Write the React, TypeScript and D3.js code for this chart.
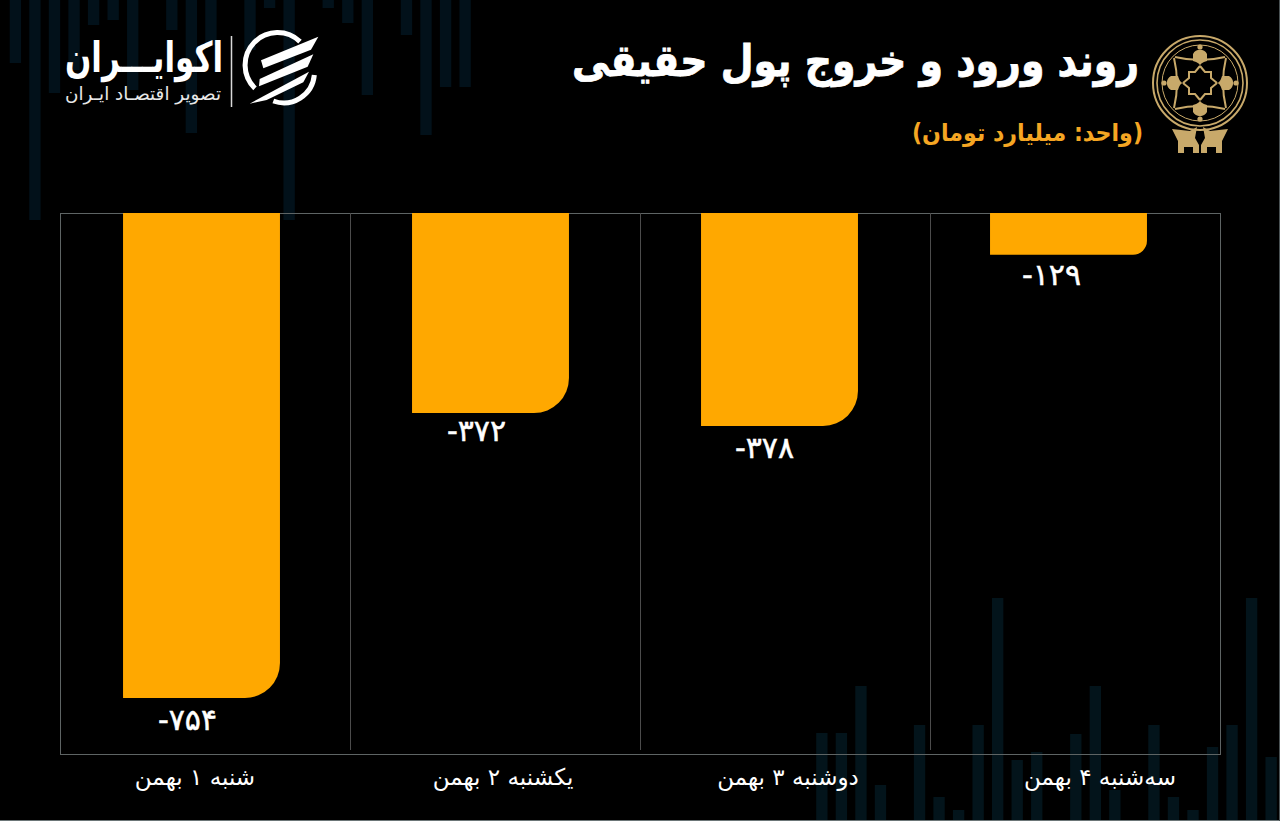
import * as d3 from 'd3';

const WIDTH = 1280;
const HEIGHT = 821;
const FONT = '"DejaVu Sans", sans-serif';

const title = 'روند ورود و خروج پول حقیقی';
const subtitle = '(واحد: میلیارد تومان)';
const brandName = 'اکوایـــران';
const brandTagline = 'تصویر اقتصـاد ایـران';

const categories = ['شنبه ۱ بهمن', 'یکشنبه ۲ بهمن', 'دوشنبه ۳ بهمن', 'سه‌شنبه ۴ بهمن'];
// the numbers printed on the bars
const printedValues = [-754, -372, -378, -129];
// the lengths as drawn: the source's bars are not proportional to their labels
const drawnValues = [-754, -311, -331, -65];

// faint background candles, hanging from the top and rising from the bottom
const topCandles = [63, 220, 93, 70, 25, 20, 90, 0, 30, 133, 45, 0, 50, 8, 220, 0, 8, 23, 95, 0, 35, 135, 87, 87];
const bottomCandles = [88, 88, 135, 36, 0, 96, 24, 11, 96, 223, 61, 69, 0, 87, 135, 31, 0, 96, 24, 11, 74, 96, 223, 64];

const frame = { left: 60, right: 1220, top: 213, bottom: 754 };

const persianDigits = '۰۱۲۳۴۵۶۷۸۹';
const toPersian = (v: number) =>
    (v < 0 ? '-' : '') + String(Math.abs(v)).replace(/\d/g, d => persianDigits[+d]);

const slots = categories.map((_, i) => i);

const cellX = d3.scaleBand<number>().domain(slots).range([frame.left, frame.right]);

const barX = d3.scaleBand<number>()
    .domain(slots)
    .range([57, 1213])
    .paddingInner(0.457)
    .paddingOuter(0.2285);

const barY = d3.scaleLinear().domain([0, -754]).range([frame.top, 698]);

const topX = d3.scaleBand<number>().domain(d3.range(topCandles.length)).range([1.5, 479]).padding(0.42);
const bottomX = d3.scaleBand<number>().domain(d3.range(bottomCandles.length)).range([808, 1285]).padding(0.42);
const candleLength = d3.scaleLinear().domain([0, HEIGHT]).range([0, HEIGHT]);

// nudges for the labels, which are not centred on the bars in the source
const categoryNudge = [-10, 8, 3, 25];
const valueNudge = [-14, -14, -15, -17];
const valueDrop = [32, 28, 32, 30];

function barPath(i: number): string {
    const x0 = barX(i)!;
    const x1 = x0 + barX.bandwidth();
    const y0 = barY(0);
    const y1 = barY(drawnValues[i]);
    const r = Math.min(35, (y1 - y0) / 3);
    const p = d3.path();
    p.moveTo(x0, y0);
    p.lineTo(x1, y0);
    p.arcTo(x1, y1, x1 - r, y1, r);
    p.lineTo(x0, y1);
    p.closePath();
    return p.toString();
}

function Emblem() {
    const gold = '#c8a96a';
    const arms = [0, 90, 180, 270];
    return (
        <g transform="translate(1200,83)" fill="none" stroke={gold}>
            <circle r={47} strokeWidth={2} />
            <circle r={43} strokeWidth={1.6} />
            <circle r={38} strokeWidth={1} />
            {arms.map(a => (
                <g key={a} transform={`rotate(${a})`}>
                    <path d="M-25,-26 Q0,-20 25,-26" strokeWidth={2} />
                    <path d="M0,-17 L-5,-11 L-11,-11 L-11,-5 L-17,0" strokeWidth={2} />
                    <path d="M-7,-29 A8,8 0 0 1 7,-29 L7,-22 Q0,-20 0,-17 Q0,-20 -7,-22 Z" fill={gold} stroke="none" />
                    <circle cy={-36} r={2.6} fill={gold} stroke="none" />
                </g>
            ))}
            <path
                d="M-28,46 L-10,48 L-3,44 L-5,55 L-1,62 L-1,70 L-7,70 L-7,64 L-16,64 L-16,70 L-22,70 L-22,58 Z M28,46 L10,48 L3,44 L5,55 L1,62 L1,70 L7,70 L7,64 L16,64 L16,70 L22,70 L22,58 Z"
                fill={gold}
                stroke="none"
            />
        </g>
    );
}

function BrandMark() {
    return (
        <g transform="translate(235,25) scale(0.3333)" fill="#ffffff">
            <path d="M195,50 A92,92 0 0 0 60,190" fill="none" stroke="#fff" strokeWidth={15} />
            <path d="M238,150 A92,92 0 0 1 115,228" fill="none" stroke="#fff" strokeWidth={15} />
            <path d="M78,106 L250,35 L228,74 L85,130 Z" />
            <path d="M74,162 L235,88 L218,125 L72,184 Z" />
            <path d="M44,236 L222,140 L205,172 L95,225 Z" />
        </g>
    );
}

export default function App() {
    return (
        <div>
            <style>{'html,body{margin:0;padding:0;background:#000;}'}</style>
            <svg width={WIDTH} height={HEIGHT} style={{ display: 'block', fontFamily: FONT }}>
                <rect width={WIDTH} height={HEIGHT} fill="#000000" />

                {topCandles.map((v, i) => (
                    <rect key={i} x={topX(i)} y={0} width={topX.bandwidth()} height={candleLength(v)} fill="#02111a" />
                ))}
                {bottomCandles.map((v, i) => (
                    <rect key={i} x={bottomX(i)} y={HEIGHT - candleLength(v)} width={bottomX.bandwidth()} height={candleLength(v)} fill="#03141b" />
                ))}

                {/* plot frame */}
                <rect
                    x={frame.left + 0.5}
                    y={frame.top + 0.5}
                    width={frame.right - frame.left}
                    height={frame.bottom - frame.top}
                    fill="none"
                    stroke="#5e6464"
                />
                {slots.slice(1).map(i => (
                    <line key={i} x1={cellX(i)! + 0.5} x2={cellX(i)! + 0.5} y1={frame.top} y2={750} stroke="#4c4c4c" />
                ))}

                {slots.map(i => (
                    <path key={i} d={barPath(i)} fill="#ffa800" />
                ))}

                {slots.map(i => (
                    <text
                        key={i}
                        x={barX(i)! + barX.bandwidth() / 2 + valueNudge[i]}
                        y={barY(drawnValues[i]) + valueDrop[i]}
                        direction="ltr"
                        textAnchor="middle"
                        fontSize={30}
                        fill="#ffffff"
                        stroke="#ffffff"
                        strokeWidth={0.5}
                    >
                        {toPersian(printedValues[i])}
                    </text>
                ))}

                {slots.map(i => (
                    <text
                        key={i}
                        x={cellX(i)! + cellX.bandwidth() / 2 + categoryNudge[i]}
                        y={785}
                        direction="rtl"
                        textAnchor="middle"
                        fontSize={23}
                        fill="#ffffff"
                    >
                        {categories[i]}
                    </text>
                ))}

                {/* header */}
                <text x={1139} y={76} direction="rtl" textAnchor="start" fontSize={44} fontWeight={700} fill="#ffffff" stroke="#ffffff" strokeWidth={0.8} textLength={567} lengthAdjust="spacingAndGlyphs">
                    {title}
                </text>
                <text x={1143} y={141} direction="rtl" textAnchor="start" fontSize={24} fontWeight={700} fill="#f5a623" textLength={231} lengthAdjust="spacingAndGlyphs">
                    {subtitle}
                </text>
                <Emblem />

                <text x={223} y={72} direction="rtl" textAnchor="start" fontSize={42} fontWeight={700} fill="#ffffff" textLength={158} lengthAdjust="spacingAndGlyphs">
                    {brandName}
                </text>
                <text x={221} y={100} direction="rtl" textAnchor="start" fontSize={18} fill="#e8e8e8" textLength={156} lengthAdjust="spacingAndGlyphs">
                    {brandTagline}
                </text>
                <line x1={231.5} x2={231.5} y1={36} y2={107} stroke="#d8d8d8" strokeWidth={1.5} />
                <BrandMark />

                <line x1={0} x2={WIDTH} y1={820.5} y2={820.5} stroke="#6c7678" />
                <line x1={1279.5} x2={1279.5} y1={0} y2={HEIGHT} stroke="#4a5254" />
            </svg>
        </div>
    );
}
